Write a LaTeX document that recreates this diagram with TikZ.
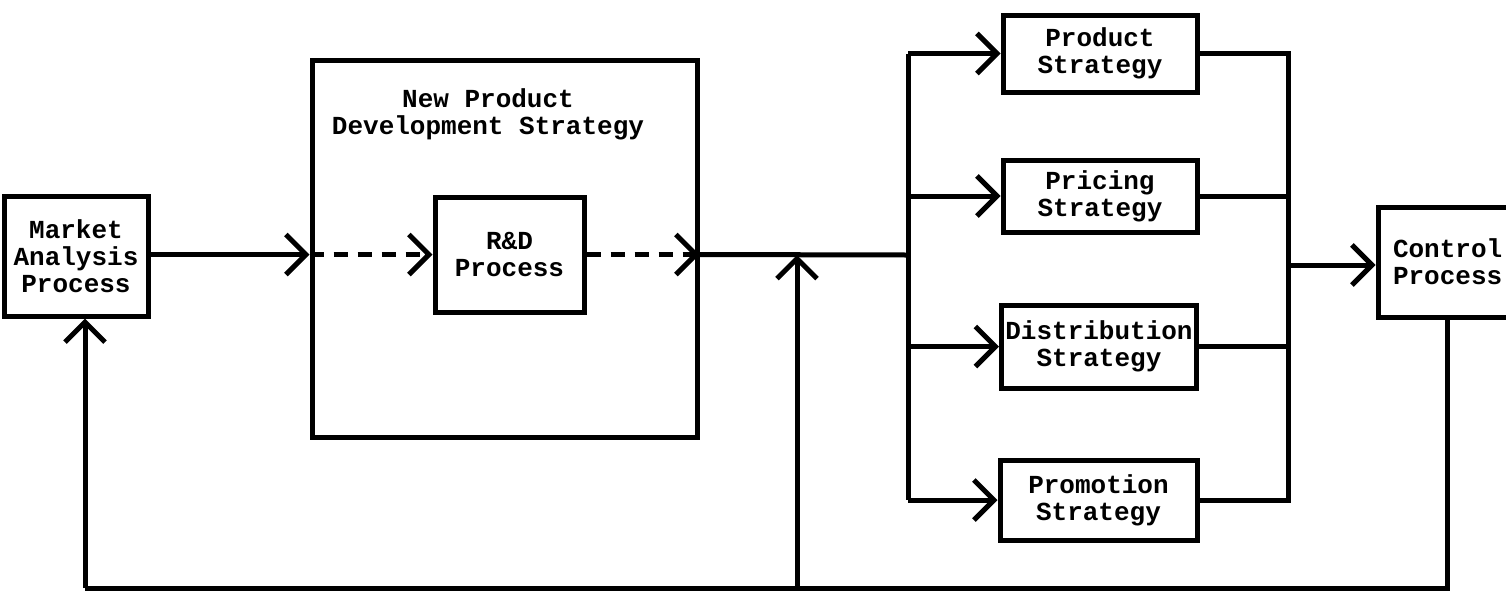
\documentclass[tikz,border=0pt]{standalone}
\usepackage{fontspec}
\setmainfont{Liberation Mono}
\usetikzlibrary{arrows.meta}
\begin{document}
\begin{tikzpicture}[x=0.5pt,y=-0.5pt,
  txt/.style={align=center,font=\fontsize{13}{13.5}\selectfont\bfseries},
  box/.style={txt,draw,line width=2.5pt,rectangle,inner sep=0pt},
  conn/.style={line width=2.5pt},
  arr/.style={conn,-{Straight Barb[length=10pt,width=20pt]}},
  dsh/.style={dash pattern=on 7pt off 5pt}]
\useasboundingbox (0,0) rectangle (1506,601);
% nodes
\node[box,minimum width=72pt,minimum height=60pt] (market) at (76,256) {Market\\Analysis\\Process};
\node[box,minimum width=192.5pt,minimum height=188.5pt] (npd) at (504.5,248.5) {};
\node[txt] (npdtitle) at (488,114) {New Product\\Development Strategy};
\node[box,minimum width=74.5pt,minimum height=57.5pt] (rd) at (509.5,254.5) {R\&D\\Process};
\node[box,minimum width=97pt,minimum height=38.5pt] (product) at (1100,53.5) {Product\\Strategy};
\node[box,minimum width=97pt,minimum height=36pt] (pricing) at (1100,196) {Pricing\\Strategy};
\node[box,minimum width=97.5pt,minimum height=41.5pt] (distribution) at (1099,346.5) {Distribution\\Strategy};
\node[box,minimum width=98.5pt,minimum height=40pt] (promotion) at (1098.5,500) {Promotion\\Strategy};
\node[box,minimum width=76pt,minimum height=55pt,text width=61pt,align=left] (control) at (1454,262) {Control\\Process};
% coordinates
\coordinate (j) at (908,255);
\coordinate (rb) at (1288,265);
\coordinate (cb) at (1447,588);
\coordinate (bl) at (85,588);
\coordinate (bm) at (797,588);
% connectors
\draw[arr] (market.east |- rd.west) -- (npd.west |- rd.west);
\draw[arr,dsh] (npd.west |- rd.west) -- (rd.west);
\draw[arr,dsh] (rd.east) -- (rd.east -| npd.east);
\draw[conn] (rd.east -| npd.east) -- (j);
\draw[conn] (j |- product.west) -- (j |- promotion.west);
\draw[arr] (j |- product.west) -- (product.west);
\draw[arr] (j |- pricing.west) -- (pricing.west);
\draw[arr] (j |- distribution.west) -- (distribution.west);
\draw[arr] (j |- promotion.west) -- (promotion.west);
\draw[conn] (product.east) -| (rb |- promotion.east) -- (promotion.east);
\draw[conn] (pricing.east) -- (pricing.east -| rb);
\draw[conn] (distribution.east) -- (distribution.east -| rb);
\draw[arr] (rb) -- (rb -| control.west);
\draw[conn] (control.south -| cb) -- (cb) -- (bl);
\draw[arr] (bl) -- (bl |- market.south);
\draw[arr] (bm) -- (bm |- j);
\end{tikzpicture}
\end{document}
